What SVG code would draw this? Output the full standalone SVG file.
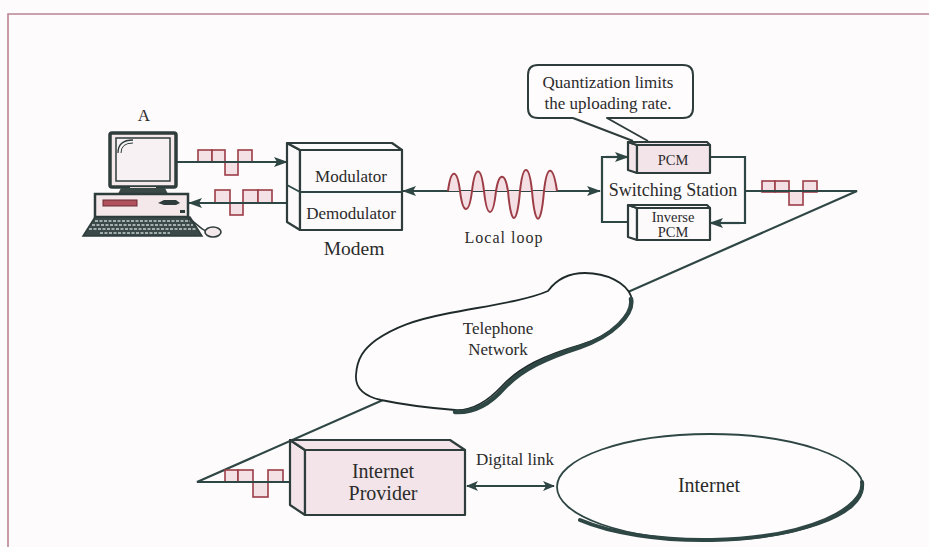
<svg xmlns="http://www.w3.org/2000/svg" width="929" height="547" viewBox="0 0 929 547">
  <defs>
    <marker id="arrow" viewBox="0 0 14 10" markerWidth="14" markerHeight="10" refX="13" refY="5" orient="auto-start-reverse" markerUnits="userSpaceOnUse">
      <path d="M0,0 L14,5 L0,10 L3,5 Z" fill="#2e4644"/>
    </marker>
    <marker id="arrow-sm" viewBox="0 0 12 10" markerWidth="12" markerHeight="10" refX="11" refY="5" orient="auto-start-reverse" markerUnits="userSpaceOnUse">
      <path d="M0,0 L12,5 L0,10 L3,5 Z" fill="#2e4644"/>
    </marker>
    <style>
      .ln { stroke: #2e4644; stroke-width: 2.2; fill: none; }
      .thin { stroke: #2e4644; stroke-width: 1.8; fill: none; }
      .box { stroke: #2e3d3b; stroke-width: 2.2; stroke-linejoin: round; }
      .pink { fill: #f2e4e8; }
      .white { fill: #fcfafb; }
      .bit { fill: #f3e1e5; stroke: #9c3d46; stroke-width: 1.6; }
      .txt { font-family: "Liberation Serif", "Times New Roman", serif; fill: #2b2b2b; text-anchor: middle; }
    </style>
  </defs>

  <!-- page background and figure frame -->
  <rect x="0" y="0" width="929" height="547" fill="#fefbfc"/>
  <path d="M8,547 L8,14 L929,14" fill="none" stroke="#b98592" stroke-width="1.6"/>

  <g id="connectors">
    <!-- trunk from switching station through the telephone network to the provider -->
    <path class="ln" d="M745,191 L857,191 L197,482 L291,482"/>
    <!-- computer to modem and back -->
    <path class="ln" d="M177,162 L287,162" marker-end="url(#arrow)"/>
    <path class="ln" d="M287,203 L189,203" marker-end="url(#arrow)"/>
    <!-- local loop -->
    <path class="ln" d="M403,191 L600,191" marker-start="url(#arrow)" marker-end="url(#arrow)"/>
    <!-- switching station loop -->
    <path class="ln" d="M628,157 L602,157 L602,222 L628,222"/>
    <path class="ln" d="M606,157 L628,157" marker-end="url(#arrow)"/>
    <path class="ln" d="M710,157 L745,157 L745,223 L710,223"/>
    <path class="ln" d="M740,223 L710,223" marker-end="url(#arrow)"/>
    <!-- digital link -->
    <path class="thin" d="M467,486 L554,486" marker-start="url(#arrow-sm)" marker-end="url(#arrow-sm)"/>
  </g>

  <!-- digital signals drawn on the lines -->
  <g id="signal-up">
    <rect class="bit" x="198" y="150" width="14" height="12"/>
    <rect class="bit" x="212" y="150" width="13" height="12"/>
    <rect class="bit" x="225" y="162" width="13" height="13"/>
    <rect class="bit" x="238" y="150" width="14" height="12"/>
    <path class="ln" d="M196,162 L254,162"/>
  </g>
  <g id="signal-down">
    <rect class="bit" x="215" y="190" width="15" height="13"/>
    <rect class="bit" x="230" y="203" width="13" height="12"/>
    <rect class="bit" x="243" y="190" width="15" height="13"/>
    <rect class="bit" x="258" y="190" width="14" height="13"/>
    <path class="ln" d="M213,203 L274,203"/>
  </g>
  <g id="signal-trunk">
    <rect class="bit" x="762" y="181" width="13" height="11"/>
    <rect class="bit" x="775" y="181" width="14" height="11"/>
    <rect class="bit" x="789" y="191" width="14" height="14"/>
    <rect class="bit" x="803" y="181" width="14" height="11"/>
    <path class="ln" d="M760,191 L819,191"/>
  </g>
  <g id="signal-provider">
    <rect class="bit" x="225" y="470" width="13" height="12"/>
    <rect class="bit" x="238" y="470" width="15" height="12"/>
    <rect class="bit" x="253" y="482" width="15" height="15"/>
    <rect class="bit" x="268" y="470" width="15" height="12"/>
    <path class="ln" d="M223,482 L285,482"/>
  </g>

  <!-- analog signal on the local loop -->
  <g id="analog-wave">
    <path d="M448,191
             C451,168 457,168 460,191
             C463,215 469,215 472,191
             C475,165 481,165 484,191
             C487,219 493,219 496,191
             C499,172 505,172 508,191
             C511,227 517,227 520,191
             C523,163 529,163 532,191
             C535,228 541,228 544,191
             C547,164 553,164 557,191 Z"
          fill="#f4dfe4" stroke="none"/>
    <path d="M448,191
             C451,168 457,168 460,191
             C463,215 469,215 472,191
             C475,165 481,165 484,191
             C487,219 493,219 496,191
             C499,172 505,172 508,191
             C511,227 517,227 520,191
             C523,163 529,163 532,191
             C535,228 541,228 544,191
             C547,164 553,164 557,191"
          fill="none" stroke="#9c3d46" stroke-width="2"/>
  </g>

  <g id="computer">
    <rect x="110" y="133" width="66" height="54" rx="2" fill="#f4e8eb" stroke="#2e3d3b" stroke-width="3.5"/>
    <rect x="116" y="138" width="54" height="43" fill="#f8f1f3" stroke="#2e3d3b" stroke-width="1.5"/>
    <path d="M118,153 Q118,140 133,140" fill="none" stroke="#2e3d3b" stroke-width="1.3"/>
    <path d="M121,153 Q121,143 133,143" fill="none" stroke="#2e3d3b" stroke-width="1"/>
    <rect x="130" y="187" width="26" height="3" fill="#e6d6da"/>
    <path d="M118,194 L121,188 L165,188 L168,194 Z" fill="#3a4846"/>
    <rect x="95" y="194" width="93" height="23" fill="#f4e8eb" stroke="#2e3d3b" stroke-width="2.5"/>
    <rect x="103" y="200" width="34" height="6" fill="#b0505c" stroke="#6b2a30" stroke-width="1"/>
    <path d="M158,203 L164,200 L176,200 L180,203 L176,205 L164,205 Z" fill="#2e3d3b"/>
    <rect x="180" y="210" width="5" height="3" fill="#2e3d3b"/>
    <path d="M95,217 L190,217 L202,236 L83,236 Z" fill="#3b4a48" stroke="#2e3d3b" stroke-width="1.5"/>
    <g stroke="#c6d0ce" stroke-width="1.3" stroke-dasharray="3,1.5">
      <path d="M95,221 L190,221"/>
      <path d="M92,225 L193,225"/>
      <path d="M89,229 L196,229"/>
      <path d="M100,233 L170,233"/>
    </g>
    <path d="M186,217 C196,222 199,228 206,231" fill="none" stroke="#2e3d3b" stroke-width="1.5"/>
    <ellipse cx="213" cy="232" rx="8" ry="5" fill="#f4e8eb" stroke="#2e3d3b" stroke-width="1.6"/>
    <text class="txt" x="144" y="121" font-size="17">A</text>
  </g>

  <g id="modem">
    <path class="box white" d="M287,143 L300,150 L300,230 L287,222 Z"/>
    <path class="box white" d="M287,143 L392,143 L402,150 L300,150 Z"/>
    <rect class="box white" x="300" y="150" width="102" height="80"/>
    <path class="thin" d="M300,192 L402,192 M287,185 L300,192"/>
    <text class="txt" x="351" y="182" font-size="17">Modulator</text>
    <text class="txt" x="351" y="219" font-size="17">Demodulator</text>
    <text class="txt" x="354" y="255" font-size="19.5">Modem</text>
  </g>

  <text class="txt" x="504" y="243" font-size="16" letter-spacing="1">Local loop</text>

  <g id="callout">
    <path d="M573,118 L538,118 Q528,118 528,108 L528,75 Q528,65 538,65 L683,65 Q693,65 693,75 L693,108 Q693,118 683,118 L607,118 L648,141 M573,118 L633,141"
          fill="#fefcfd" stroke="#2e3d3b" stroke-width="2" stroke-linejoin="round"/>
    <text class="txt" x="608" y="88" font-size="17">Quantization limits</text>
    <text class="txt" x="608" y="109" font-size="17">the uploading rate.</text>
  </g>

  <g id="switching-station">
    <g id="pcm">
      <path class="box pink" d="M628,142 L637,145 L637,173 L628,170 Z"/>
      <path class="box pink" d="M628,142 L707,142 L710,145 L637,145 Z"/>
      <rect class="box pink" x="637" y="145" width="73" height="28"/>
      <text class="txt" x="673" y="165" font-size="14.5">PCM</text>
    </g>
    <g id="inverse-pcm">
      <path class="box white" d="M628,205 L637,208 L637,240 L628,237 Z"/>
      <path class="box white" d="M628,205 L707,205 L710,208 L637,208 Z"/>
      <rect class="box white" x="637" y="208" width="73" height="32"/>
      <text class="txt" x="673" y="222" font-size="14.5">Inverse</text>
      <text class="txt" x="673" y="237" font-size="14.5">PCM</text>
    </g>
    <text class="txt" x="673" y="196" font-size="18">Switching Station</text>
  </g>

  <g id="telephone-network">
    <path d="M548,291 C556,280 568,273 585,273 C607,273 626,283 631,296 C637,312 615,335 580,345 C545,355 520,367 502,386 C488,401 472,411 455,410 C430,408 400,404 381,400 C364,396 355,388 356,375 C357,358 364,349 376,340 C395,327 415,320 445,314 C485,306 525,301 548,291 Z"
          fill="#fefcfd" stroke="#1f2b2a" stroke-width="1.8"/>
    <path d="M631,299 C634,314 613,336 580,347 C546,358 522,369 504,388 C490,404 473,413 455,412"
          fill="none" stroke="#2e4644" stroke-width="4.5" stroke-linecap="round"/>
    <text class="txt" x="498" y="334" font-size="17">Telephone</text>
    <text class="txt" x="498" y="355" font-size="17">Network</text>
  </g>

  <g id="internet-provider">
    <path class="box pink" d="M290,440 L305,450 L305,515 L290,505 Z"/>
    <path class="box pink" d="M290,440 L450,440 L465,450 L305,450 Z"/>
    <rect class="box pink" x="305" y="450" width="160" height="65" stroke-width="2.6"/>
    <text class="txt" x="383" y="478" font-size="20">Internet</text>
    <text class="txt" x="383" y="500" font-size="20">Provider</text>
  </g>

  <text class="txt" x="515" y="465" font-size="17">Digital link</text>

  <g id="internet">
    <ellipse cx="710" cy="487" rx="153" ry="53" fill="#fefcfd" stroke="#2e4644" stroke-width="1.8"/>
    <path d="M862,482 C866,508 810,538 712,540 C660,541 610,533 580,520" fill="none" stroke="#2e4644" stroke-width="4" stroke-linecap="round"/>
    <text class="txt" x="709" y="492" font-size="20">Internet</text>
  </g>
</svg>
